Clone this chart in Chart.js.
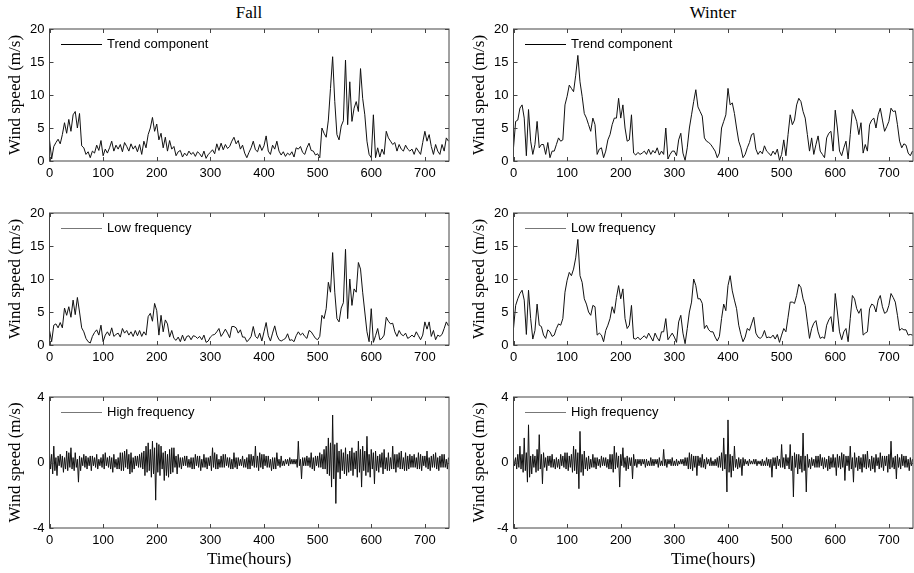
<!DOCTYPE html>
<html>
<head>
<meta charset="utf-8">
<script src="https://cdn.jsdelivr.net/npm/chart.js@4"></script>
<style>
  body { margin: 0; width: 914px; height: 573px; overflow: hidden; background: #fff; position: relative; }
  .cell { position: absolute; width: 452px; }
  .head { position: absolute; top: 3px; width: 200px; margin-left: -100px; text-align: center;
          font: 17px/20px 'Liberation Serif', 'Times New Roman', serif; color: #000; }
</style>
</head>
<body>
<div class="head" style="left:249px">Fall</div>
<div class="head" style="left:713px">Winter</div>
<div class="cell" style="left:0;top:0;height:183px"><canvas id="fallTrend"></canvas></div>
<div class="cell" style="left:464px;top:0;height:183px"><canvas id="winterTrend"></canvas></div>
<div class="cell" style="left:0;top:184px;height:183px"><canvas id="fallLow"></canvas></div>
<div class="cell" style="left:464px;top:184px;height:183px"><canvas id="winterLow"></canvas></div>
<div class="cell" style="left:0;top:368px;height:205px"><canvas id="fallHigh"></canvas></div>
<div class="cell" style="left:464px;top:368px;height:205px"><canvas id="winterHigh"></canvas></div>
<script>
// trend / low frequency: one value every 4 hours; high frequency: every 2 hours
const hours4 = Array.from({ length: 187 }, (_, i) => i * 4);
const hours2 = Array.from({ length: 373 }, (_, i) => i * 2);
const xTicks = [0, 100, 200, 300, 400, 500, 600, 700];
const speedTicks = [0, 5, 10, 15, 20];
const highTicks = [-4, 0, 4];

const fallTrend = [
  3.2,0.3,2.2,2.8,3.3,2.6,4.0,5.8,4.2,6.3,
  4.5,7.0,7.5,5.0,7.2,2.3,2.0,1.0,1.4,0.5,
  1.5,1.2,2.4,1.6,3.1,0.8,1.8,1.2,2.0,3.0,
  1.5,2.4,1.8,2.5,1.4,2.8,2.2,1.5,2.6,1.8,
  2.3,1.4,2.5,1.0,3.0,2.0,4.0,5.0,6.6,4.5,
  5.6,3.2,4.2,2.0,3.6,1.5,3.1,1.8,2.2,0.8,
  1.4,1.6,0.6,1.2,0.8,1.5,1.0,1.3,0.7,1.4,
  1.1,0.6,1.5,0.4,1.0,1.3,1.7,1.1,2.6,1.6,
  2.7,1.7,2.5,1.9,2.2,3.0,3.6,2.6,3.1,1.8,
  2.4,1.2,0.5,1.3,2.0,3.0,1.7,1.4,2.5,1.6,
  2.3,3.8,1.5,1.0,2.4,1.8,3.0,1.5,0.9,1.4,
  0.7,1.2,0.9,1.4,0.6,2.0,1.8,2.2,1.3,1.0,
  2.0,2.7,1.6,1.5,0.9,1.1,0.5,5.0,4.2,3.6,
  6.2,11.0,15.8,9.0,4.0,3.2,5.3,6.1,15.3,5.5,
  12.0,6.0,8.0,9.0,7.5,14.0,9.5,7.0,3.0,1.0,
  0.5,7.0,0.5,2.0,0.6,1.8,1.0,4.5,3.5,3.0,
  2.5,2.8,1.5,2.5,1.8,1.5,2.4,1.8,1.5,1.8,
  1.0,2.0,1.5,1.0,2.8,4.5,3.0,4.0,2.2,1.0,
  2.5,1.5,1.0,2.5,1.5,3.5,3.0
];

const fallLow = [
  2.2,0.5,3.0,3.2,2.6,3.4,2.6,5.6,4.5,5.8,
  4.2,6.8,4.6,7.2,5.0,2.6,2.0,1.0,0.5,0.3,
  1.3,1.9,2.3,1.5,3.0,0.5,1.5,2.0,1.4,2.6,
  1.3,1.6,1.8,1.2,2.5,1.8,2.2,1.5,2.0,1.3,
  2.2,1.4,2.2,1.3,2.0,1.5,4.3,4.8,3.6,6.3,
  5.2,1.5,4.5,2.0,3.8,3.2,1.2,2.2,1.0,0.7,
  1.2,0.5,1.5,0.6,1.3,1.4,0.8,1.4,1.3,1.0,
  1.3,0.8,1.5,0.4,0.6,1.2,1.5,1.6,2.0,2.5,
  1.3,1.8,2.4,1.8,1.1,2.8,2.8,2.6,1.8,2.3,
  1.2,1.2,0.5,0.8,1.3,2.8,1.3,1.0,1.8,0.6,
  2.0,3.4,1.4,0.6,1.8,2.9,1.5,0.8,0.6,0.8,
  1.0,1.7,0.7,0.8,0.5,1.4,2.0,1.5,1.8,1.3,
  1.0,2.2,2.0,1.5,1.0,0.8,1.3,4.5,4.0,5.5,
  9.5,8.0,14.0,8.0,4.0,3.5,5.6,6.4,14.5,4.0,
  10.0,6.0,8.5,8.0,12.5,11.5,8.0,5.0,2.0,0.5,
  5.5,0.4,1.4,2.5,0.8,1.0,1.5,4.2,3.6,3.2,
  3.3,2.0,1.3,2.2,1.6,1.4,1.8,1.0,1.2,1.5,
  1.2,2.0,1.4,0.8,1.5,3.5,2.4,3.5,1.3,2.2,
  0.8,1.5,1.3,1.6,2.5,3.5,2.9
];

const fallHigh = [
  0.6,-0.4,0.5,-0.7,1.0,-0.5,0.3,-0.8,0.4,-0.2,0.5,-0.3,0.4,-0.6,0.3,-0.4,0.7,-0.5,0.6,-0.3,
  0.9,-0.4,0.3,-0.5,0.6,-0.3,0.2,-1.2,0.4,-0.5,0.3,-0.2,0.5,-0.3,0.4,-0.4,0.3,-0.2,0.4,-0.5,
  0.4,-0.2,0.3,-0.3,0.5,-0.4,0.2,-0.2,0.3,-0.3,0.5,-0.4,0.6,-0.2,0.3,-0.3,0.4,-0.4,0.3,-0.6,
  0.5,-0.3,0.2,-0.4,0.3,-0.4,0.6,-0.5,0.6,-0.5,0.7,-0.3,0.8,-0.4,0.5,-0.7,0.6,-0.6,0.3,-0.4,
  0.4,-0.2,0.4,-0.3,0.5,-0.3,0.6,-0.4,0.7,-0.8,1.0,-0.6,1.2,-0.5,0.8,-0.9,1.3,-0.7,0.9,-2.3,
  1.2,-0.6,1.1,-0.8,1.0,-0.4,0.6,-1.1,0.7,-0.8,0.5,-0.9,0.8,-0.7,0.9,-0.6,0.9,-0.3,0.4,-0.7,
  0.5,-0.3,0.3,-0.4,0.3,-0.2,0.4,-0.2,0.4,-0.3,0.2,-0.3,0.3,-0.4,0.3,-0.4,0.5,-0.2,0.4,-0.3,
  0.4,-0.5,0.2,-0.3,0.5,-0.3,0.3,-0.4,0.3,-0.2,0.4,-0.5,0.9,-0.3,0.6,-0.4,0.5,-0.4,0.2,-0.3,
  0.4,-0.3,0.5,-0.3,0.5,-0.2,0.3,-0.3,0.3,-0.4,0.2,-0.4,0.6,-0.3,0.3,-0.4,0.3,-0.2,0.2,-0.2,
  0.4,-0.3,0.2,-0.3,0.3,-0.4,0.5,-0.4,0.5,-0.2,0.4,-0.3,1.0,-0.3,0.4,-0.5,0.6,-0.3,0.5,-0.4,
  0.5,-0.2,0.4,-0.3,0.4,-0.3,0.2,-0.5,0.3,-0.4,0.3,-0.4,0.6,-0.2,0.2,-0.3,0.4,-0.2,0.1,-0.2,
  0.2,-0.1,0.2,-0.2,0.3,-0.1,0.2,-0.1,0.2,-0.1,0.2,-0.3,1.3,-0.2,0.2,-1.0,0.3,-0.2,0.3,-0.2,
  0.4,-0.2,0.3,-0.3,0.6,-0.4,0.3,-0.5,0.4,-0.2,0.4,-0.3,0.6,-0.3,0.5,-0.4,0.8,-0.4,1.0,-0.7,
  1.5,-0.8,1.2,-1.5,2.9,-1.0,1.1,-2.5,1.2,-0.6,0.7,-1.0,0.8,-0.5,0.6,-0.7,0.9,-0.8,0.5,-0.6,
  0.7,-0.5,0.9,-0.8,0.6,-0.4,0.7,-0.9,1.3,-0.6,0.8,-1.5,1.0,-0.5,0.7,-0.8,1.6,-0.6,0.5,-0.9,
  0.8,-0.4,0.6,-1.3,0.7,-0.5,0.4,-0.6,0.5,-0.3,0.6,-0.7,0.8,-0.4,0.3,-0.5,0.6,-0.5,0.3,-0.4,
  1.0,-0.4,0.5,-0.6,0.5,-0.3,0.6,-0.4,0.7,-0.4,0.3,-0.5,0.6,-0.5,0.4,-0.4,0.5,-0.3,0.4,-0.3,
  0.5,-0.3,0.3,-0.4,0.6,-0.4,0.5,-0.5,0.4,-0.2,0.4,-0.3,0.7,-0.4,0.3,-0.5,0.4,-0.3,0.5,-0.3,
  0.6,-0.4,0.3,-0.5,0.4,-0.3,0.5,-0.3,0.5,-0.3,0.2,-0.4,0.3
];

const winterTrend = [
  2.0,6.0,6.2,8.0,8.5,6.5,0.8,7.8,3.0,1.0,
  2.5,6.0,2.0,2.5,2.5,1.0,2.8,0.5,1.5,1.5,
  2.5,3.5,3.0,3.2,8.5,9.8,11.5,11.0,10.5,13.0,
  16.0,12.0,9.8,7.2,6.5,5.5,4.5,6.5,5.5,1.0,
  1.8,2.0,0.5,1.5,3.2,4.0,5.5,6.5,6.5,9.5,
  6.5,8.5,5.0,3.0,3.2,7.0,1.2,0.9,1.3,1.0,
  1.2,1.5,1.0,1.8,1.0,1.6,1.2,2.0,0.9,1.5,
  1.0,5.0,0.3,1.0,1.5,1.5,0.8,3.2,4.2,1.2,
  0.1,2.0,5.0,7.0,9.0,10.8,8.2,7.5,6.8,3.5,
  3.0,2.8,2.5,2.0,1.5,0.5,1.2,5.0,6.0,7.0,
  11.0,8.5,8.8,7.2,5.0,3.0,2.0,0.5,1.0,2.0,
  2.8,4.0,4.2,1.8,1.0,1.5,1.1,2.3,1.5,1.2,
  0.8,1.5,1.0,1.8,0.1,1.0,3.2,0.8,4.0,7.0,
  5.5,6.2,8.5,9.5,9.0,7.5,6.5,4.0,1.5,3.5,
  1.0,2.5,3.8,1.5,1.0,0.5,3.5,4.2,4.5,1.5,
  7.7,5.0,1.5,0.8,2.0,3.0,0.3,4.0,7.8,7.0,
  6.0,4.0,5.8,1.2,2.5,1.5,5.5,6.2,6.5,5.0,
  7.0,8.0,6.2,4.5,5.2,6.0,8.0,7.5,7.6,5.5,
  3.0,2.0,2.6,2.4,1.2,0.8,1.5
];

const winterLow = [
  2.5,6.0,7.0,7.8,8.3,6.8,1.6,8.3,4.0,0.9,
  2.2,6.2,3.0,2.8,1.5,1.0,2.3,2.0,1.3,1.5,
  2.5,3.2,3.0,4.0,8.0,9.8,11.0,10.5,11.5,13.2,
  16.0,10.5,9.5,7.0,6.2,5.0,4.5,6.0,5.8,1.5,
  1.8,1.5,0.5,2.2,3.0,4.0,5.8,4.8,7.2,9.0,
  7.0,8.5,4.0,2.5,3.0,6.0,1.0,0.9,1.2,0.8,
  1.1,1.4,1.0,1.8,1.2,0.6,1.8,1.1,0.6,2.0,
  2.0,4.0,0.8,1.3,1.8,1.2,0.4,3.5,4.5,1.8,
  0.2,2.5,5.0,6.5,10.0,9.0,7.0,7.0,6.3,2.5,
  3.0,2.3,2.0,2.0,1.2,0.6,1.3,4.0,6.2,5.2,
  9.0,10.5,8.2,6.8,5.5,3.0,1.6,0.5,1.2,2.5,
  2.2,3.2,4.2,1.8,1.2,1.0,1.3,2.2,1.1,1.2,
  1.1,1.5,0.9,1.6,0.4,1.5,2.5,2.0,4.2,6.5,
  6.5,6.3,7.5,9.2,8.7,7.0,6.0,3.5,1.0,2.5,
  3.3,3.7,2.0,1.0,1.2,1.0,3.0,3.8,4.3,2.0,
  7.8,5.0,2.0,0.8,2.0,2.5,0.5,4.0,7.5,7.0,
  5.5,4.8,5.5,1.5,1.8,2.0,5.5,6.2,6.0,5.0,
  6.8,7.5,5.8,4.8,5.0,6.0,7.8,7.2,6.5,4.5,
  2.2,2.5,2.3,2.3,1.5,1.6,1.5
];

const winterHigh = [
  0.3,-0.2,0.3,-0.4,0.5,-0.3,1.0,-0.4,0.5,-0.6,1.5,-0.5,0.6,-1.2,2.3,-0.9,0.4,-0.7,0.5,-0.3,
  0.4,-0.6,0.8,-0.5,1.7,-0.4,0.5,-1.3,0.6,-0.3,0.3,-0.5,0.4,-0.2,0.4,-0.3,0.5,-0.3,0.2,-0.4,
  0.3,-0.3,0.2,-0.4,0.5,-0.2,0.4,-0.3,0.6,-0.4,0.6,-0.5,0.4,-0.3,0.5,-0.6,1.0,-0.5,0.8,-0.7,
  0.6,-1.6,1.9,-0.6,0.5,-0.8,0.7,-0.4,0.3,-0.5,0.4,-0.4,0.2,-0.3,0.5,-0.3,0.3,-0.4,0.3,-0.2,
  0.2,-0.3,0.4,-0.2,0.3,-0.2,0.3,-0.3,0.2,-0.4,0.5,-0.4,0.5,-0.6,1.0,-0.4,0.6,-0.3,0.4,-1.5,
  0.5,-0.2,0.9,-0.3,0.3,-0.5,0.4,-0.4,0.3,-0.2,0.3,-1.0,0.5,-0.2,0.2,-0.3,0.2,-0.1,0.2,-0.2,
  0.2,-0.1,0.2,-0.3,0.2,-0.2,0.1,-0.2,0.3,-0.2,0.2,-0.2,0.2,-0.1,0.2,-0.3,0.3,-0.2,0.1,-0.2,
  0.8,-0.2,0.2,-0.3,0.2,-0.1,0.2,-0.2,0.3,-0.2,0.1,-0.2,0.2,-0.2,0.1,-0.1,0.2,-0.1,0.2,-0.2,
  0.3,-0.2,0.3,-0.4,0.6,-0.4,0.5,-0.5,0.4,-0.3,0.4,-0.8,0.4,-0.2,0.3,-0.3,0.5,-0.3,0.2,-0.4,
  0.3,-0.1,0.2,-0.2,0.3,-0.2,0.1,-0.2,0.2,-0.2,0.3,-0.3,0.4,-0.3,0.6,-0.5,1.5,-0.4,0.5,-1.8,
  2.6,-0.6,0.5,-0.9,0.4,-0.5,1.0,-0.3,0.2,-0.4,0.3,-0.3,0.2,-0.8,0.3,-0.2,0.2,-0.1,0.1,-0.2,
  0.2,-0.1,0.1,-0.1,0.2,-0.1,0.2,-0.2,0.1,-0.1,0.1,-0.2,0.2,-0.2,0.1,-0.2,0.3,-0.2,0.2,-0.3,
  0.2,-0.9,0.3,-0.2,0.3,-0.4,0.4,-0.2,0.2,-0.3,1.1,-0.3,0.3,-0.4,0.5,-0.2,0.3,-0.4,1.1,-0.5,
  0.4,-2.1,0.6,-0.3,0.5,-0.7,0.5,-0.4,0.4,-0.6,1.8,-0.5,0.4,-1.8,0.5,-0.3,0.2,-0.4,0.3,-0.2,
  0.2,-0.3,0.4,-0.3,0.4,-0.3,0.5,-0.2,0.3,-0.4,0.3,-0.3,0.2,-0.5,0.4,-0.4,0.3,-0.3,0.5,-0.3,
  0.3,-0.8,0.5,-0.3,0.4,-0.4,0.6,-0.3,0.5,-1.1,0.4,-0.2,0.4,-0.5,1.0,-0.4,0.3,-1.2,0.6,-0.3,
  0.3,-0.5,0.4,-0.4,0.3,-0.6,0.5,-0.3,0.5,-0.4,0.7,-0.3,0.2,-0.5,0.4,-0.4,0.3,-0.6,0.5,-0.2,
  0.3,-0.4,0.6,-0.3,0.4,-0.5,0.4,-0.2,0.4,-0.6,0.5,-0.4,1.3,-0.3,0.3,-0.4,0.4,-1.0,0.5,-0.3,
  0.3,-0.4,0.5,-0.2,0.4,-0.3,0.4,-0.3,0.2,-0.5,0.3,-0.2,0.2
];

Chart.defaults.font.family = "'Liberation Sans', Arial, sans-serif";
Chart.defaults.font.size = 13;
Chart.defaults.color = '#000';

const serif = "'Liberation Serif', 'Times New Roman', serif";

// box round the plot with short inward ticks on all four sides
const frame = {
  id: 'frame',
  afterDraw(chart) {
    const { ctx, chartArea: a, scales: { x, y } } = chart;
    ctx.save();
    ctx.strokeStyle = '#444';
    ctx.lineWidth = 1;
    ctx.strokeRect(a.left, a.top, a.right - a.left, a.bottom - a.top);
    ctx.beginPath();
    x.ticks.forEach(t => {
      const px = Math.round(x.getPixelForValue(t.value)) + 0.5;
      ctx.moveTo(px, a.bottom); ctx.lineTo(px, a.bottom - 4);
      ctx.moveTo(px, a.top); ctx.lineTo(px, a.top + 4);
    });
    y.ticks.forEach(t => {
      const py = Math.round(y.getPixelForValue(t.value)) + 0.5;
      ctx.moveTo(a.left, py); ctx.lineTo(a.left + 4, py);
      ctx.moveTo(a.right, py); ctx.lineTo(a.right - 4, py);
    });
    ctx.stroke();
    ctx.restore();
  }
};

// MATLAB style legend: short line + label in the top left corner of the plot
const cornerLegend = {
  id: 'cornerLegend',
  afterDraw(chart, args, opts) {
    const { ctx, chartArea: a } = chart;
    const y = Math.round(a.top + 15) + 0.5;
    ctx.save();
    ctx.strokeStyle = opts.color;
    ctx.lineWidth = 1;
    ctx.beginPath();
    ctx.moveTo(a.left + 11.5, y);
    ctx.lineTo(a.left + 52.5, y);
    ctx.stroke();
    ctx.fillStyle = '#000';
    ctx.font = "13px 'Liberation Sans', Arial, sans-serif";
    ctx.textBaseline = 'middle';
    ctx.fillText(chart.data.datasets[0].label, a.left + 57.5, y);
    ctx.restore();
  }
};

function makeChart(id, xs, values, label, yTicks, bottomRow, legendColor) {
  return new Chart(document.getElementById(id), {
    type: 'line',
    data: {
      datasets: [{
        label: label,
        data: xs.map((h, i) => ({ x: h, y: values[i] })),
        borderColor: '#111',
        borderWidth: 1,
        pointRadius: 0,
        tension: 0
      }]
    },
    options: {
      responsive: true,
      maintainAspectRatio: false,
      animation: false,
      events: [],
      layout: { padding: { top: 29, right: 3, left: 0, bottom: 0 } },
      scales: {
        x: {
          type: 'linear',
          min: 0,
          max: 745,
          grid: { display: false, drawTicks: false, tickLength: 0 },
          border: { display: false },
          ticks: { padding: 5, maxRotation: 0 },
          afterBuildTicks: s => { s.ticks = xTicks.map(v => ({ value: v })); },
          afterFit: s => { s.height = bottomRow ? 45 : 22; },
          title: {
            display: bottomRow,
            text: 'Time(hours)',
            font: { family: serif, size: 17 },
            padding: { top: 0, bottom: 3 }
          }
        },
        y: {
          min: yTicks[0],
          max: yTicks[yTicks.length - 1],
          grid: { display: false, drawTicks: false, tickLength: 0 },
          border: { display: false },
          ticks: { padding: 5 },
          afterBuildTicks: s => { s.ticks = yTicks.map(v => ({ value: v })); },
          afterFit: s => { s.width = 49.5; },
          title: {
            display: true,
            text: 'Wind speed (m/s)',
            font: { family: serif, size: 17 },
            padding: { top: 5, bottom: 0 }
          }
        }
      },
      plugins: {
        legend: { display: false },
        tooltip: { enabled: false },
        cornerLegend: { color: legendColor }
      }
    },
    plugins: [frame, cornerLegend]
  });
}

makeChart('fallTrend', hours4, fallTrend, 'Trend component', speedTicks, false, '#000');
makeChart('winterTrend', hours4, winterTrend, 'Trend component', speedTicks, false, '#000');
makeChart('fallLow', hours4, fallLow, 'Low frequency', speedTicks, false, '#777');
makeChart('winterLow', hours4, winterLow, 'Low frequency', speedTicks, false, '#777');
makeChart('fallHigh', hours2, fallHigh, 'High frequency', highTicks, true, '#777');
makeChart('winterHigh', hours2, winterHigh, 'High frequency', highTicks, true, '#777');
</script>
</body>
</html>
